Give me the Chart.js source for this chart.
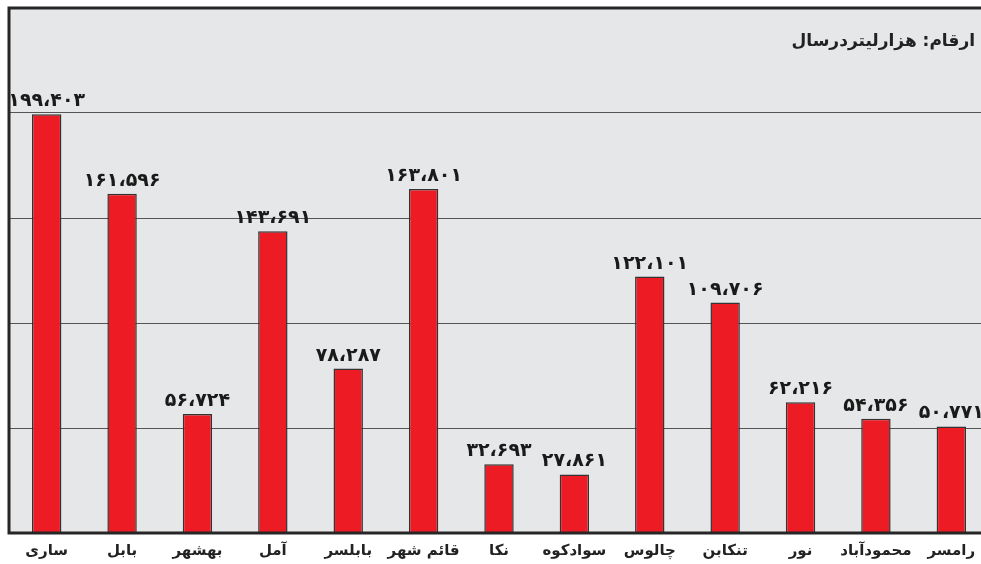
<!DOCTYPE html>
<html>
<head>
<meta charset="utf-8">
<script src="https://cdn.jsdelivr.net/npm/chart.js@4/dist/chart.umd.min.js"></script>
<style>
  html, body { margin: 0; padding: 0; background: #fff; overflow: hidden; }
  #wrap { position: relative; width: 989px; height: 564px; }
</style>
</head>
<body>
<div id="wrap"><canvas id="chart"></canvas></div>
<script>
const categories = ["ساری", "بابل", "بهشهر", "آمل", "بابلسر", "قائم شهر", "نکا", "سوادکوه", "چالوس", "تنکابن", "نور", "محمودآباد", "رامسر"];
const values = [199403, 161596, 56724, 143691, 78287, 163801, 32693, 27861, 122101, 109706, 62216, 54356, 50771];
const yMax = 250000;
const yStep = 50000;
const unitNote = "ارقام: هزارلیتردرسال";

const FA_DIGITS = "۰۱۲۳۴۵۶۷۸۹";
function toPersian(n) {
  const s = String(n).replace(/\B(?=(\d{3})+(?!\d))/g, "،");
  return s.replace(/\d/g, d => FA_DIGITS[+d]);
}

const frame = {
  id: "frame",
  beforeDraw(chart) {
    const { ctx, chartArea: a } = chart;
    ctx.save();
    ctx.fillStyle = "#e6e7e9";
    ctx.fillRect(a.left, a.top, a.right - a.left, a.bottom - a.top);
    ctx.restore();
  },
  afterDatasetsDraw(chart) {
    const { ctx, chartArea: a } = chart;
    ctx.save();
    ctx.strokeStyle = "#262626";
    ctx.lineWidth = 3;
    ctx.beginPath();
    ctx.moveTo(a.left, a.bottom);
    ctx.lineTo(a.left, a.top);
    ctx.lineTo(a.right, a.top);
    ctx.moveTo(a.left - 1.5, a.bottom);
    ctx.lineTo(a.right, a.bottom);
    ctx.stroke();

    // value labels
    ctx.fillStyle = "#1a1a1a";
    ctx.font = "bold 19px 'DejaVu Sans'";
    ctx.textAlign = "center";
    ctx.textBaseline = "alphabetic";
    chart.getDatasetMeta(0).data.forEach((bar, i) => {
      ctx.fillText(toPersian(values[i]), bar.x, bar.y - 8);
    });

    // unit note
    ctx.font = "bold 17px 'DejaVu Sans'";
    ctx.fillStyle = "#222";
    ctx.direction = "rtl";
    ctx.textAlign = "right";
    ctx.textBaseline = "middle";
    ctx.fillText(unitNote, 975, 42);
    ctx.restore();
  }
};

new Chart(document.getElementById("chart"), {
  type: "bar",
  data: {
    labels: categories,
    datasets: [{
      data: values,
      backgroundColor: "#ed1c24",
      borderColor: "#333",
      borderWidth: 1.5,
      categoryPercentage: 1,
      barPercentage: 0.39,
    }],
  },
  options: {
    responsive: true,
    maintainAspectRatio: false,
    animation: false,
    layout: { padding: { left: 9, top: 8, right: 0, bottom: 0 } },
    plugins: {
      legend: { display: false },
      tooltip: { enabled: false },
    },
    scales: {
      x: {
        grid: { display: false },
        border: { display: false },
        ticks: {
          color: "#222",
          padding: 1,
          maxRotation: 0,
          autoSkip: false,
          font: { family: "'DejaVu Sans'", size: 15, weight: "bold" },
        },
        afterFit: s => { s.height = 31; },
      },
      y: {
        min: 0,
        max: yMax,
        ticks: { display: false, stepSize: yStep },
        grid: { color: "#555", lineWidth: 1, drawTicks: false },
        border: { display: false },
        afterFit: s => { s.width = 0; },
      },
    },
  },
  plugins: [frame],
});
</script>
</body>
</html>
